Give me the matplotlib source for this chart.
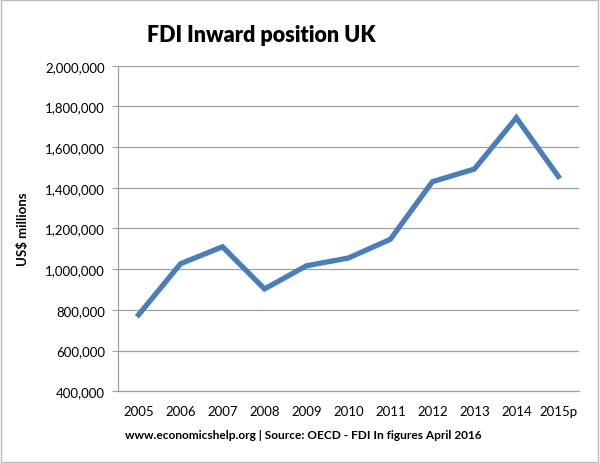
import matplotlib
matplotlib.use("Agg")
import matplotlib.pyplot as plt
from matplotlib.ticker import FuncFormatter
from matplotlib.patches import Rectangle

years = ["2005", "2006", "2007", "2008", "2009", "2010",
         "2011", "2012", "2013", "2014", "2015p"]
fdi_inward = [776000, 1027000, 1110000, 903000, 1017000, 1055000,
              1147000, 1430000, 1492000, 1744000, 1456000]

plt.rcParams["font.family"] = ["Lato", "DejaVu Sans"]

fig = plt.figure(figsize=(6.0, 4.64), dpi=100)
ax = fig.add_axes([0.196, 0.1545, 0.7695, 0.7018])

x = list(range(len(years)))
ax.plot(x, fdi_inward, color="#4A7EBB", linewidth=3.8,
        solid_joinstyle="miter", zorder=3)

ax.set_xlim(-0.5, len(years) - 0.5)
ax.set_ylim(400000, 2000000)
ax.set_yticks(range(400000, 2000001, 200000))
ax.yaxis.set_major_formatter(FuncFormatter(lambda v, p: f"{int(v):,}"))
ax.set_xticks(x)
ax.set_xticklabels(years)

ax.grid(axis="y", color="#A0A0A0", linewidth=0.9, zorder=1)
for s in ["top", "right"]:
    ax.spines[s].set_visible(False)
ax.spines["left"].set_color("#A0A0A0")
ax.spines["bottom"].set_color("#A0A0A0")
ax.spines["left"].set_linewidth(0.9)
ax.spines["bottom"].set_linewidth(0.9)
ax.tick_params(axis="y", length=4, color="#A0A0A0", labelsize=9.5, pad=5)
ax.tick_params(axis="x", length=0, labelsize=9.5, pad=10)

ax.set_ylabel("US$ millions", fontsize=9.5, fontweight="bold", labelpad=12)

fig.text(0.435, 0.924, "FDI Inward position UK", ha="center", va="center",
         fontsize=15.5, fontweight="heavy")
fig.text(0.505, 0.062, "www.economicshelp.org | Source: OECD - FDI In figures April 2016",
         ha="center", va="center", fontsize=8.6, fontweight="bold")

fig.patches.append(Rectangle((0.002, 0.002), 0.995, 0.995, transform=fig.transFigure,
                             fill=False, edgecolor="#BBBBBB", linewidth=1.0))

fig.savefig("out.png", dpi=100, facecolor="white")
